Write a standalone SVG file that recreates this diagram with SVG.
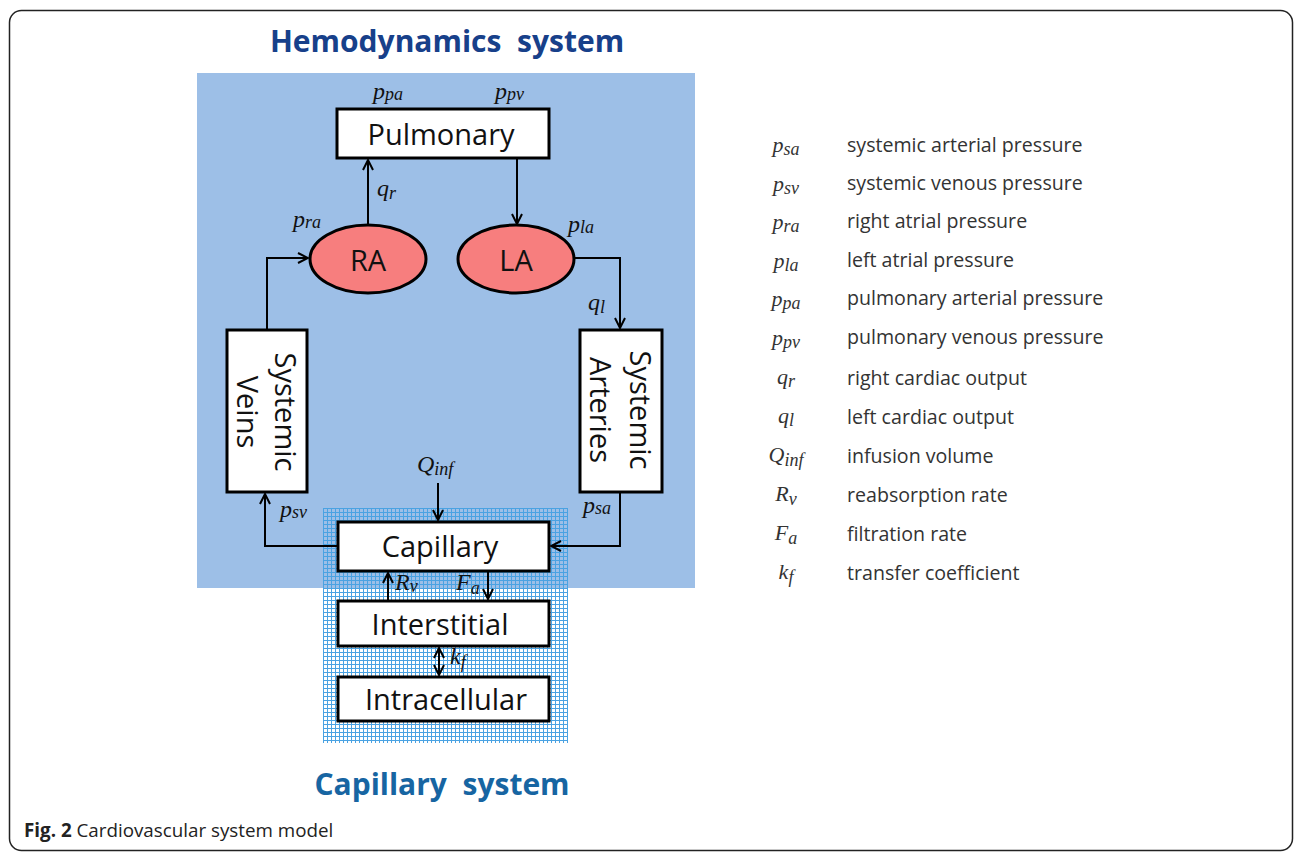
<svg xmlns="http://www.w3.org/2000/svg" width="1295" height="853" viewBox="0 0 1295 853">
<defs>
<pattern id="grid" x="323" y="508" width="4" height="4" patternUnits="userSpaceOnUse">
<path d="M0.5 0 V4 M0 0.5 H4" stroke="#4AA2E2" stroke-width="1" fill="none"/>
</pattern>
<marker id="arr" viewBox="0 0 12 12" refX="11" refY="6" markerWidth="12" markerHeight="12" markerUnits="userSpaceOnUse" orient="auto-start-reverse">
<path d="M1 1 L11 6 L1 11" fill="none" stroke="#000" stroke-width="2"/>
</marker>
<style>
.box{fill:#fff;stroke:#000;stroke-width:3}
.atr{fill:#F77E7E;stroke:#000;stroke-width:3}
.lbl{font-family:"Open Sans","Noto Sans",sans-serif;font-size:29px;fill:#111;text-anchor:middle}
.m{font-family:"Liberation Serif","DejaVu Serif",serif;font-style:italic;font-size:24px;fill:#111}
.s{font-size:18px}
.leg{font-family:"Open Sans","Noto Sans",sans-serif;font-size:19.6px;fill:#333}
.lm{font-family:"Liberation Serif","DejaVu Serif",serif;font-style:italic;font-size:22px;fill:#333;text-anchor:middle}
.c{fill:none;stroke:#000;stroke-width:2}
</style>
</defs>
<rect x="9.5" y="10.5" width="1283" height="840" rx="12" fill="#fff" stroke="#222" stroke-width="1.5"/>
<text x="447" y="52" font-family="Open Sans,Noto Sans,sans-serif" font-weight="bold" font-size="30" fill="#17408A" text-anchor="middle" xml:space="preserve">Hemodynamics  system</text>
<rect x="197" y="73" width="498" height="515" fill="#9DBFE7"/>
<rect x="323" y="508" width="245" height="235" fill="url(#grid)"/>
<text x="442" y="795" font-family="Open Sans,Noto Sans,sans-serif" font-weight="bold" font-size="30" fill="#1765A2" text-anchor="middle" xml:space="preserve">Capillary  system</text>
<g id="connectors">
<path class="c" d="M368 226 V160" marker-end="url(#arr)"/>
<path class="c" d="M517 158 V224" marker-end="url(#arr)"/>
<path class="c" d="M575 258 H620 V328" marker-end="url(#arr)"/>
<path class="c" d="M267 330 V258 H308" marker-end="url(#arr)"/>
<path class="c" d="M338 546 H265 V494" marker-end="url(#arr)"/>
<path class="c" d="M620 492 V546 H551" marker-end="url(#arr)"/>
<path class="c" d="M438 483 V520" marker-end="url(#arr)"/>
<path class="c" d="M388 601 V573" marker-end="url(#arr)"/>
<path class="c" d="M488 571 V599" marker-end="url(#arr)"/>
<path class="c" d="M439 648 V675" marker-start="url(#arr)" marker-end="url(#arr)"/>
</g>
<g id="pulmonary"><rect class="box" x="337" y="109" width="212" height="49"/><text class="lbl" x="441" y="145">Pulmonary</text></g>
<g id="ra"><ellipse class="atr" cx="368" cy="259" rx="58" ry="34"/><text class="lbl" x="368" y="271">RA</text></g>
<g id="la"><ellipse class="atr" cx="516" cy="259" rx="58" ry="34"/><text class="lbl" x="516" y="271">LA</text></g>
<g id="veins"><rect class="box" x="227" y="330" width="80" height="162"/><text class="lbl" transform="translate(267,412) rotate(90)"><tspan x="0" y="-8">Systemic</tspan><tspan x="0" y="30">Veins</tspan></text></g>
<g id="arteries"><rect class="box" x="580" y="330" width="82" height="162"/><text class="lbl" transform="translate(621,410) rotate(90)"><tspan x="0" y="-9">Systemic</tspan><tspan x="0" y="31">Arteries</tspan></text></g>
<g id="capillary"><rect class="box" x="338" y="522" width="211" height="49"/><text class="lbl" x="440" y="557">Capillary</text></g>
<g id="interstitial"><rect class="box" x="338" y="601" width="211" height="45"/><text class="lbl" x="440" y="635">Interstitial</text></g>
<g id="intracellular"><rect class="box" x="338" y="677" width="211" height="44"/><text class="lbl" x="446" y="710">Intracellular</text></g>
<g id="labels">
<text class="m" x="373" y="99">p<tspan class="s" dy="1">pa</tspan></text>
<text class="m" x="495" y="99">p<tspan class="s" dy="1">pv</tspan></text>
<text class="m" x="377" y="196">q<tspan class="s" dy="3">r</tspan></text>
<text class="m" x="293" y="227">p<tspan class="s" dy="1">ra</tspan></text>
<text class="m" x="568" y="232">p<tspan class="s" dy="1">la</tspan></text>
<text class="m" x="588" y="310">q<tspan class="s" dy="3">l</tspan></text>
<text class="m" x="417" y="472">Q<tspan class="s" dy="3">inf</tspan></text>
<text class="m" x="280" y="517">p<tspan class="s" dy="1">sv</tspan></text>
<text class="m" x="583" y="513">p<tspan class="s" dy="1">sa</tspan></text>
<text class="m" x="395" y="590">R<tspan class="s" dy="2">v</tspan></text>
<text class="m" x="456" y="590">F<tspan class="s" dy="4">a</tspan></text>
<text class="m" x="450" y="664">k<tspan class="s" dy="4">f</tspan></text>
</g>
<g id="legend">
<text class="lm" x="786" y="152">p<tspan class="s" dy="3">sa</tspan></text><text class="leg" x="847" y="152">systemic arterial pressure</text>
<text class="lm" x="786" y="191">p<tspan class="s" dy="3">sv</tspan></text><text class="leg" x="847" y="190">systemic venous pressure</text>
<text class="lm" x="786" y="229">p<tspan class="s" dy="3">ra</tspan></text><text class="leg" x="847" y="228">right atrial pressure</text>
<text class="lm" x="786" y="268">p<tspan class="s" dy="3">la</tspan></text><text class="leg" x="847" y="267">left atrial pressure</text>
<text class="lm" x="786" y="306">p<tspan class="s" dy="3">pa</tspan></text><text class="leg" x="847" y="305">pulmonary arterial pressure</text>
<text class="lm" x="786" y="345">p<tspan class="s" dy="3">pv</tspan></text><text class="leg" x="847" y="344">pulmonary venous pressure</text>
<text class="lm" x="786" y="384">q<tspan class="s" dy="3">r</tspan></text><text class="leg" x="847" y="385">right cardiac output</text>
<text class="lm" x="786" y="423">q<tspan class="s" dy="3">l</tspan></text><text class="leg" x="847" y="424">left cardiac output</text>
<text class="lm" x="786" y="462">Q<tspan class="s" dy="4">inf</tspan></text><text class="leg" x="847" y="463">infusion volume</text>
<text class="lm" x="786" y="501">R<tspan class="s" dy="4">v</tspan></text><text class="leg" x="847" y="502">reabsorption rate</text>
<text class="lm" x="786" y="540">F<tspan class="s" dy="4">a</tspan></text><text class="leg" x="847" y="541">filtration rate</text>
<text class="lm" x="786" y="579">k<tspan class="s" dy="4">f</tspan></text><text class="leg" x="847" y="580">transfer coefficient</text>
</g>
<text x="24" y="837" font-family="Open Sans,Noto Sans,sans-serif" font-size="18.8" fill="#222"><tspan font-weight="bold">Fig. 2</tspan> Cardiovascular system model</text>
</svg>
